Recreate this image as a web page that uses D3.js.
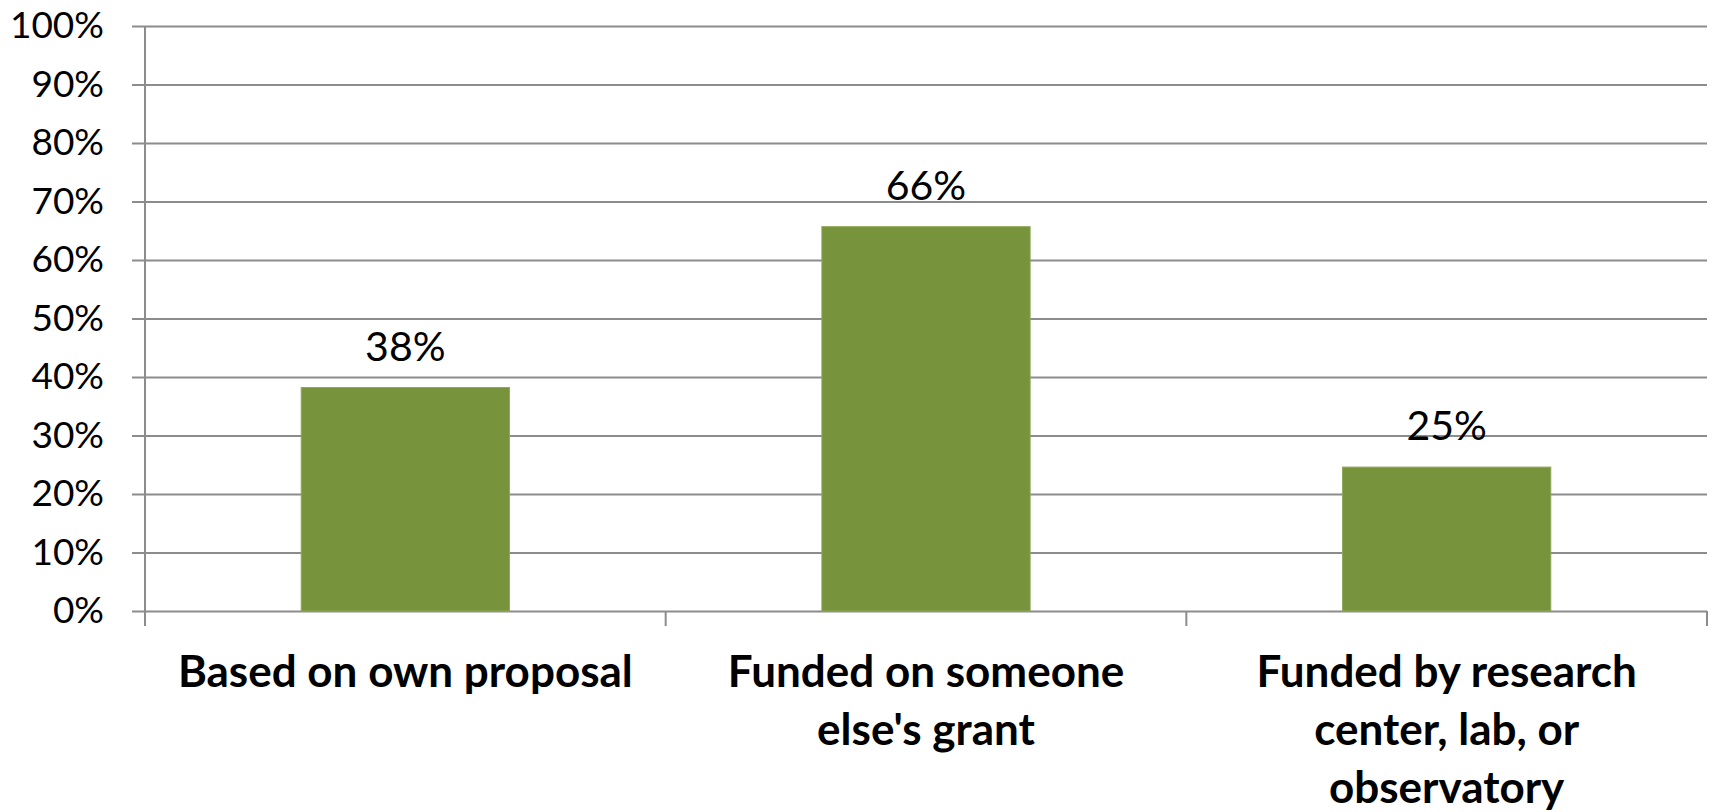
<!DOCTYPE html>
<html>
<head>
<meta charset="utf-8">
<script src="https://cdn.jsdelivr.net/npm/d3@7"></script>
<style>
  html, body { margin: 0; padding: 0; background: #fff; }
  svg { display: block; font-family: Lato, "Open Sans", sans-serif; }
</style>
</head>
<body>
<svg id="chart" width="1712" height="812"></svg>
<script>
// Share of respondents by funding source
const categories = [
  ["Based on own proposal"],
  ["Funded on someone", "else's grant"],
  ["Funded by research", "center, lab, or", "observatory"]
];
const values = [0.382, 0.657, 0.246];
const yTicks = [0, 0.1, 0.2, 0.3, 0.4, 0.5, 0.6, 0.7, 0.8, 0.9, 1.0];

const svg = d3.select("#chart");
const plotLeft = 145, plotRight = 1707, plotTop = 26, plotBottom = 611;
const gridColor = "#8c8c8c";
const barColor = "#77933c";

const x = d3.scaleBand()
  .domain(d3.range(categories.length))
  .range([plotLeft, plotRight])
  .paddingInner(0.6)
  .paddingOuter(0.3);

const xEdges = d3.scaleBand()
  .domain(d3.range(categories.length))
  .range([plotLeft, plotRight])
  .padding(0);

const y = d3.scaleLinear().domain([0, 1]).range([plotBottom, plotTop]);
const pct = d3.format(".0%");

// horizontal gridlines + left tick marks
const yAxis = d3.axisLeft(y)
  .tickValues(yTicks)
  .tickFormat(pct)
  .tickSize(-(plotRight - plotLeft))
  .tickPadding(41);

const gy = svg.append("g")
  .attr("transform", `translate(${plotLeft},0)`)
  .call(yAxis);
gy.select(".domain").remove();
gy.selectAll(".tick line")
  .attr("x1", -13)
  .attr("stroke", gridColor)
  .attr("stroke-width", 2);
gy.selectAll(".tick text")
  .attr("font-size", 37)
  .attr("fill", "#000")
  .attr("font-family", "Lato, sans-serif");

// vertical axis line
svg.append("line")
  .attr("x1", plotLeft).attr("x2", plotLeft)
  .attr("y1", y(1)).attr("y2", plotBottom + 15)
  .attr("stroke", gridColor).attr("stroke-width", 2);

// category separator ticks on x axis
const sepXs = d3.range(categories.length).map(i => xEdges(i)).concat([plotRight]);
svg.append("g").selectAll("line")
  .data(sepXs)
  .join("line")
  .attr("x1", d => d).attr("x2", d => d)
  .attr("y1", plotBottom).attr("y2", plotBottom + 15)
  .attr("stroke", gridColor).attr("stroke-width", 2);

// bars
svg.append("g").selectAll("rect")
  .data(values)
  .join("rect")
  .attr("x", (d, i) => x(i))
  .attr("width", x.bandwidth())
  .attr("y", d => y(d))
  .attr("height", d => plotBottom - y(d))
  .attr("fill", barColor)
  .attr("stroke", "#8fa85a")
  .attr("stroke-width", 1);

// value labels
svg.append("g").selectAll("text")
  .data(values)
  .join("text")
  .attr("x", (d, i) => x(i) + x.bandwidth() / 2)
  .attr("y", d => y(d) - 27)
  .attr("text-anchor", "middle")
  .attr("font-size", 41)
  .attr("fill", "#000")
  .text(d => pct(d));

// category labels
const cat = svg.append("g").selectAll("text")
  .data(categories)
  .join("text")
  .attr("x", (d, i) => xEdges(i) + xEdges.bandwidth() / 2)
  .attr("y", 687)
  .attr("text-anchor", "middle")
  .attr("font-size", 44)
  .attr("font-weight", "bold")
  .attr("fill", "#000");
cat.selectAll("tspan")
  .data(d => d)
  .join("tspan")
  .attr("x", function () { return d3.select(this.parentNode).attr("x"); })
  .attr("dy", (d, i) => i === 0 ? 0 : 58)
  .text(d => d);
</script>
</body>
</html>
